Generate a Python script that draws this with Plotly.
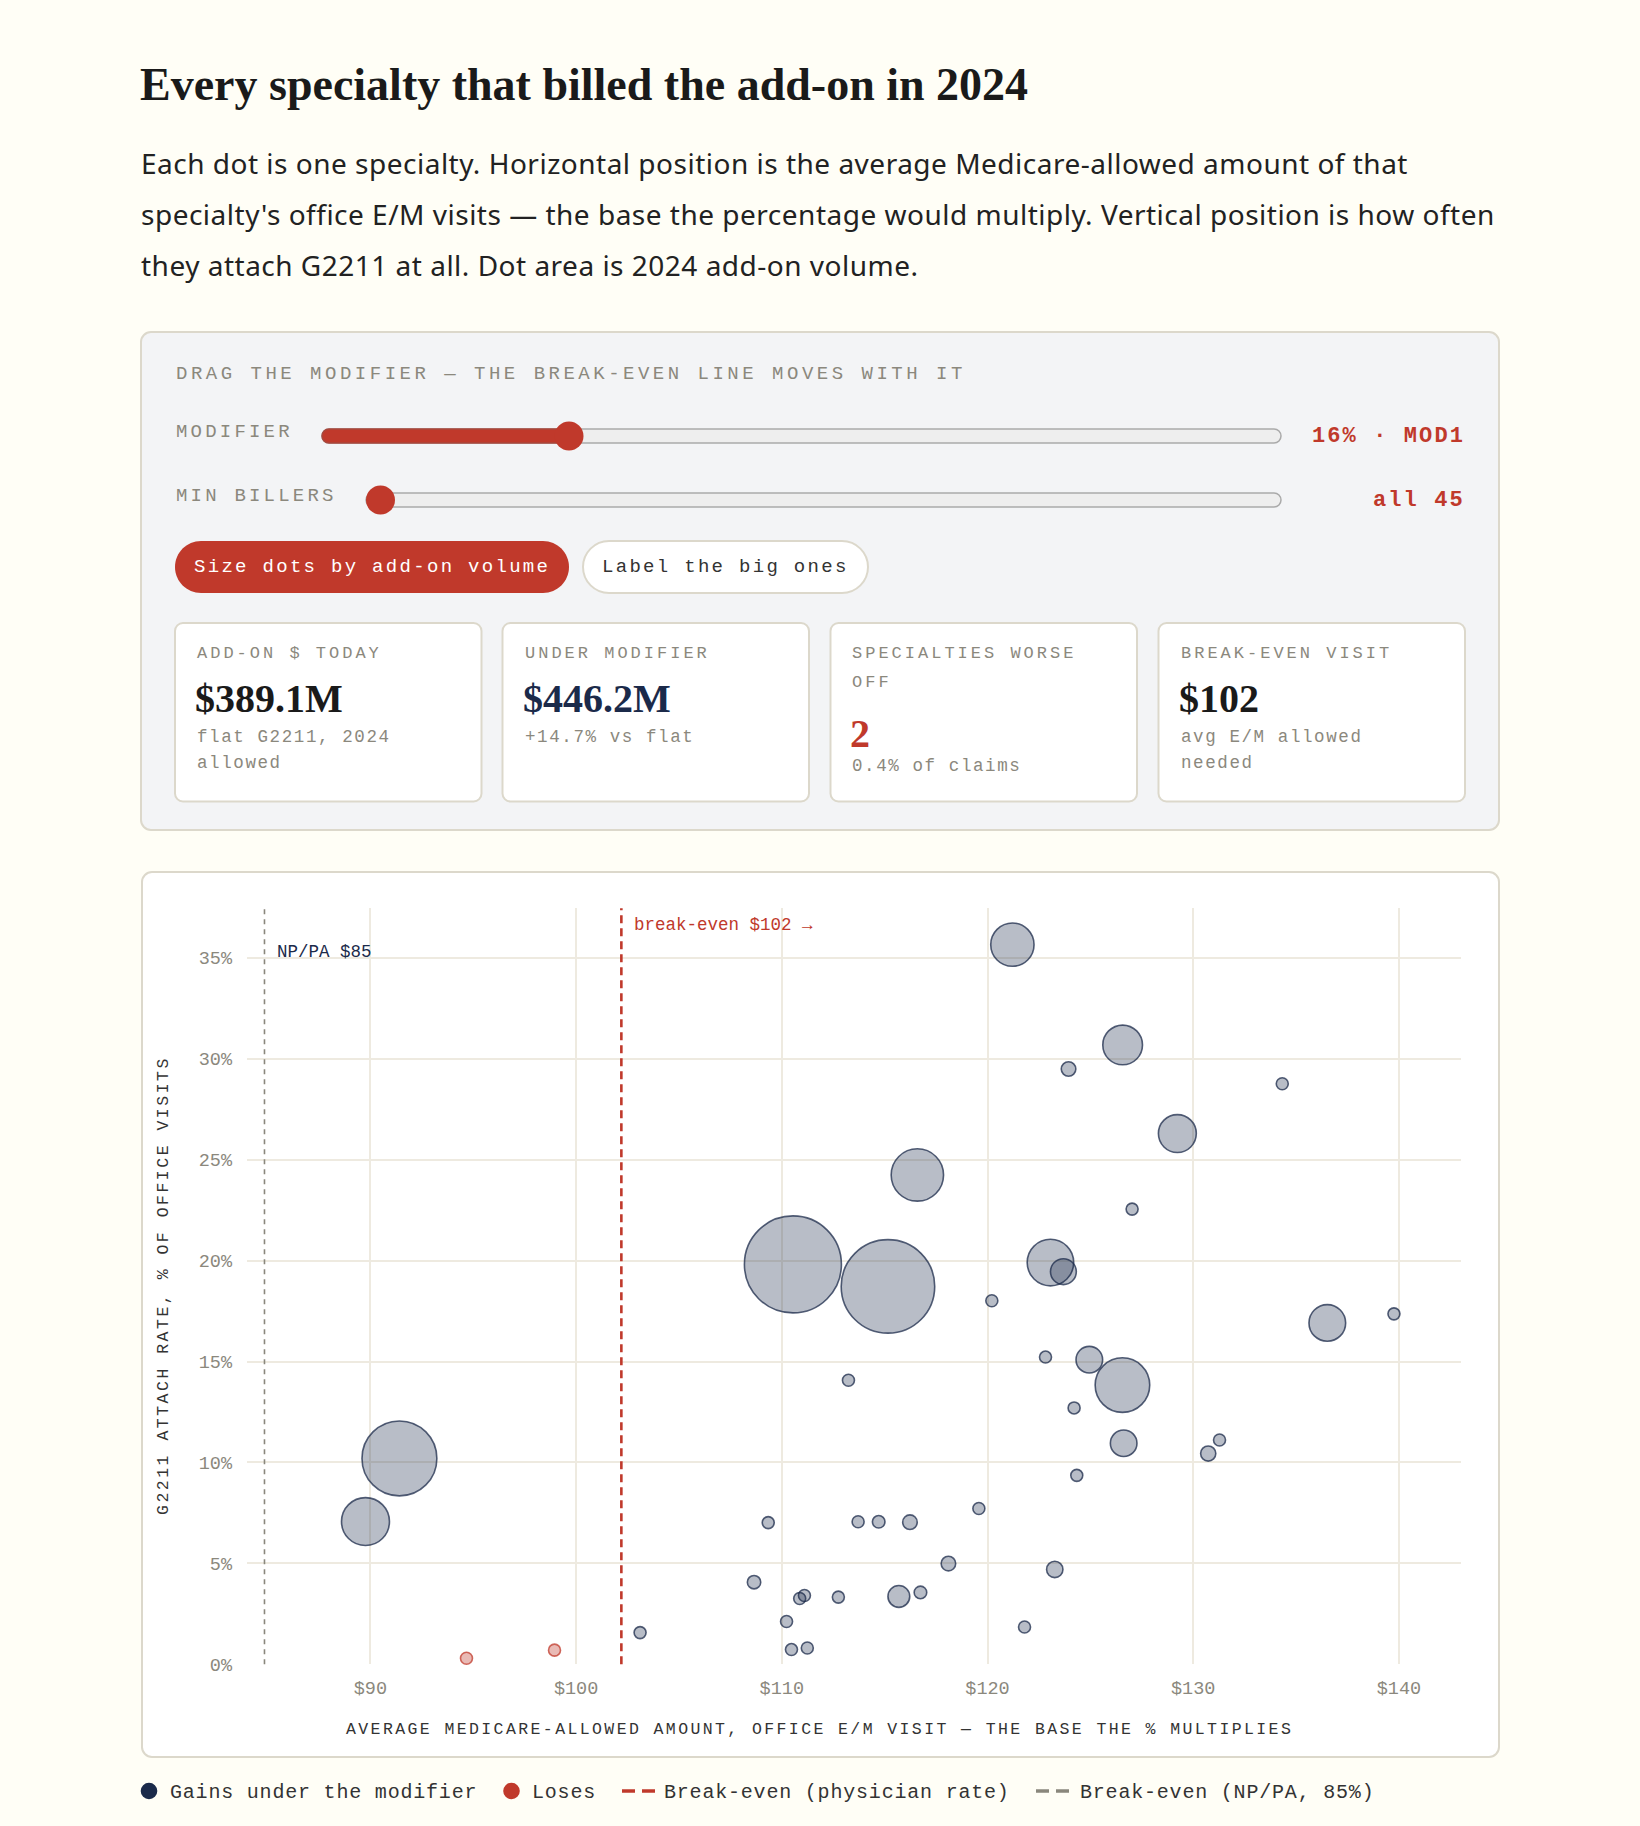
import numpy as np
import plotly.graph_objects as go

# ---------------- data ----------------
avg_allowed = [121.21, 126.57, 123.94, 134.33, 129.23, 116.59, 127.03, 110.54, 123.06, 123.69,
               115.16, 120.21, 136.52, 139.76, 113.24, 122.82, 124.95, 126.56, 124.21, 126.62,
               130.73, 131.28, 91.41, 89.76, 124.34, 109.34, 113.71, 114.71, 116.23, 119.58,
               118.10, 123.27, 108.65, 110.87, 111.10, 112.75, 115.69, 116.74, 110.23, 103.11,
               110.47, 111.24, 121.80, 98.95, 94.67]
attach_rate = [35.65, 30.68, 29.49, 28.76, 26.29, 24.24, 22.55, 19.81, 19.90, 19.45,
               18.72, 18.01, 16.91, 17.36, 14.07, 15.22, 15.09, 13.83, 12.70, 10.95,
               10.44, 11.11, 10.20, 7.07, 9.36, 7.02, 7.06, 7.06, 7.04, 7.72,
               4.99, 4.70, 4.07, 3.26, 3.41, 3.33, 3.36, 3.56, 2.12, 1.57,
               0.73, 0.81, 1.85, 0.70, 0.30]
addon_claims_k = [1197, 1005, 135, 70, 916, 1749, 72, 6000, 1381, 426,
                  5575, 65, 858, 60, 75, 68, 452, 1900, 62, 452,
                  147, 58, 3576, 1466, 66, 55, 74, 101, 135, 64,
                  135, 171, 114, 57, 61, 69, 303, 101, 63, 52,
                  50, 56, 59, 48, 45]
np_pa_specialty = [False] * 22 + [True, True] + [False] * 21

BREAKEVEN = 102.2          # physician break-even visit ($)
NPPA_BREAKEVEN = 84.85     # NP/PA break-even (85%)
x_ticks = [90, 100, 110, 120, 130, 140]
y_ticks = [0, 5, 10, 15, 20, 25, 30, 35]

title = "Every specialty that billed the add-on in 2024"
subtitle_lines = [
    "Each dot is one specialty. Horizontal position is the average Medicare-allowed amount of that",
    "specialty's office E/M visits \u2014 the base the percentage would multiply. Vertical position is how often",
    "they attach G2211 at all. Dot area is 2024 add-on volume.",
]
card_labels = [["ADD-ON $ TODAY"], ["UNDER MODIFIER"], ["SPECIALTIES WORSE", "OFF"], ["BREAK-EVEN VISIT"]]
card_values = ["$389.1M", "$446.2M", "2", "$102"]
card_notes = [["flat G2211, 2024", "allowed"], ["+14.7% vs flat"], ["0.4% of claims"], ["avg E/M allowed", "needed"]]
modifier_pct = 16
slider_min, slider_max = 8, 40
legend_labels = ["Gains under the modifier", "Loses", "Break-even (physician rate)", "Break-even (NP/PA, 85%)"]

# ---------------- style ----------------
W, H = 1640, 1826
BG = "#fffef6"
INK = "#1a1a1a"
BODY = "#222222"
NAVY = "#1b2a4a"
RED = "#c0392b"
GRAY = "#8b887d"
DARK = "#333333"
RULE = "#dcd8cb"
GRID = "#eeeae0"
PANEL = "#f3f4f6"
MONO = "Liberation Mono, DejaVu Sans Mono, monospace"
SERIF = "Liberation Serif, DejaVu Serif, serif"
SANS = "Noto Sans, Open Sans, sans-serif"

shapes, ann = [], []


def X(v):
    return v / W


def Y(v):
    return 1 - v / H


def P(x, y):
    return f"{X(x):.6f},{Y(y):.6f}"


def rrect(x0, y0, x1, y1, r, fill, line=None, lw=0, layer="below"):
    k = 0.5523 * r
    path = (f"M{P(x0 + r, y0)} L{P(x1 - r, y0)} C{P(x1 - r + k, y0)} {P(x1, y0 + r - k)} {P(x1, y0 + r)} "
            f"L{P(x1, y1 - r)} C{P(x1, y1 - r + k)} {P(x1 - r + k, y1)} {P(x1 - r, y1)} "
            f"L{P(x0 + r, y1)} C{P(x0 + r - k, y1)} {P(x0, y1 - r + k)} {P(x0, y1 - r)} "
            f"L{P(x0, y0 + r)} C{P(x0, y0 + r - k)} {P(x0 + r - k, y0)} {P(x0 + r, y0)} Z")
    shapes.append(dict(type="path", xref="paper", yref="paper", path=path, fillcolor=fill,
                       line=dict(color=line or fill, width=lw), layer=layer))


def circle(cx, cy, r, fill, line=None, lw=0, layer="below"):
    shapes.append(dict(type="circle", xref="paper", yref="paper", x0=X(cx - r), x1=X(cx + r),
                       y0=Y(cy + r), y1=Y(cy - r), fillcolor=fill,
                       line=dict(color=line or fill, width=lw), layer=layer))


def seg(x0, y0, x1, y1, color, width, layer="above"):
    shapes.append(dict(type="line", xref="paper", yref="paper", x0=X(x0), x1=X(x1), y0=Y(y0), y1=Y(y1),
                       line=dict(color=color, width=width), layer=layer))


def T(x, y, text, size, color, family=MONO, xanchor="left", ls=0, weight="normal", angle=0):
    if ls:
        text = f'<span style="letter-spacing:{ls}px">{text}</span>'
    ann.append(dict(x=X(x), y=Y(y), xref="paper", yref="paper", text=text, showarrow=False,
                    xanchor=xanchor, yanchor="middle", textangle=angle, borderpad=0,
                    font=dict(size=size, color=color, family=family, weight=weight)))


# ---------------- header text ----------------
T(139, 85, title, 46, INK, SERIF, weight="bold")
for i, line in enumerate(subtitle_lines):
    T(140, 163 + i * 51, line, 28, BODY, SANS, ls=0.5)

# ---------------- control panel ----------------
rrect(141, 332, 1499, 830, 10, PANEL, RULE, 2)
T(175, 374, "DRAG THE MODIFIER \u2014 THE BREAK-EVEN LINE MOVES WITH IT", 19, GRAY, ls=3.5)

T(175, 432, "MODIFIER", 19, GRAY, ls=3.2)
T(175, 496, "MIN BILLERS", 19, GRAY, ls=3.2)

# modifier slider
trk_l, trk_r, thumb_r = 322, 1281, 14.5
frac = (modifier_pct - slider_min) / (slider_max - slider_min)
thumb_x = trk_l + thumb_r + frac * (trk_r - trk_l - 2 * thumb_r)
rrect(trk_l, 429, trk_r, 443, 7, "#eeeeee", "#aaaaaa", 1.5)
rrect(trk_l, 429, thumb_x, 443, 7, RED, "#a8473c", 1.5)
circle(thumb_x, 436, thumb_r, RED)
T(1466, 437, f"{modifier_pct}% \u00b7 MOD1", 22, RED, ls=2.1, xanchor="right", weight="bold")

# min billers slider
trk2_l = 366
rrect(trk2_l, 493, trk_r, 507, 7, "#eeeeee", "#aaaaaa", 1.5)
circle(trk2_l + thumb_r, 500, thumb_r, RED)
T(1466, 500, f"all {len(avg_allowed)}", 22, RED, ls=2.1, xanchor="right", weight="bold")

# toggle buttons
rrect(175, 541, 569, 593, 26, RED)
T(372, 567, "Size dots by add-on volume", 19, "#ffffff", xanchor="center", ls=2.3)
rrect(583, 541, 868, 593, 26, "#ffffff", RULE, 2)
T(725.5, 567, "Label the big ones", 19, DARK, xanchor="center", ls=2.3)

# stat cards
card_left = [175, 502.5, 830.5, 1158.5]
value_colors = [INK, NAVY, RED, INK]
for i, cx in enumerate(card_left):
    rrect(cx, 623, cx + 306.5, 801.5, 8, "#ffffff", RULE, 2)
    for j, lab in enumerate(card_labels[i]):
        T(cx + 21, 654 + j * 28, lab, 17, GRAY, ls=3.0)
    vy = 699 if len(card_labels[i]) == 1 else 733
    T(cx + 19, vy, card_values[i], 40, value_colors[i], SERIF, weight="bold")
    ny = 737 if len(card_labels[i]) == 1 else 766
    for j, note in enumerate(card_notes[i]):
        T(cx + 21, ny + j * 26, note, 17.5, GRAY, ls=1.6)

# ---------------- chart box ----------------
rrect(142, 872, 1499, 1757, 10, "#ffffff", RULE, 2)

x_arr = np.array(avg_allowed)
y_arr = np.array(attach_rate)
v_arr = np.array(addon_claims_k, dtype=float)
npp = np.array(np_pa_specialty)
threshold = np.where(npp, NPPA_BREAKEVEN, BREAKEVEN)
loses = x_arr < threshold

RMIN, RMAX = 6.0, 48.5
radius = np.maximum(RMIN, RMAX * np.sqrt(v_arr / v_arr.max()))
order = np.argsort(-v_arr, kind="stable")

fills = np.where(loses, "rgba(192,57,43,0.35)", "rgba(27,42,74,0.31)")
lines = np.where(loses, "rgba(192,57,43,0.75)", "rgba(27,42,74,0.75)")

fig = go.Figure()
fig.add_trace(go.Scatter(
    x=x_arr[order], y=y_arr[order], mode="markers", cliponaxis=False,
    marker=dict(size=2 * radius[order], color=list(fills[order]), opacity=1,
                line=dict(color=list(lines[order]), width=1.6)),
    hovertemplate="$%{x:.2f} · %{y:.1f}%<extra></extra>", showlegend=False))

# break-even lines
shapes.append(dict(type="line", xref="x", yref="paper", x0=NPPA_BREAKEVEN, x1=NPPA_BREAKEVEN,
                   y0=Y(1664.3), y1=Y(908.3), line=dict(color="#8a877c", width=1.6, dash="5px,5px"),
                   layer="above"))
shapes.append(dict(type="line", xref="x", yref="paper", x0=BREAKEVEN, x1=BREAKEVEN,
                   y0=Y(1664.3), y1=Y(908.3), line=dict(color=RED, width=2.6, dash="8px,5px"),
                   layer="above"))
ann.append(dict(x=BREAKEVEN, xref="x", y=Y(925), yref="paper", xshift=11, xanchor="left", yanchor="middle",
                text=f"break-even ${BREAKEVEN:.0f} \u2192", showarrow=False,
                font=dict(size=17.5, color=RED, family=MONO)))
ann.append(dict(x=NPPA_BREAKEVEN, xref="x", y=Y(952), yref="paper", xshift=11, xanchor="left", yanchor="middle",
                text=f"NP/PA ${NPPA_BREAKEVEN:.0f}", showarrow=False,
                font=dict(size=17.5, color=NAVY, family=MONO)))

# axis titles
T(819.5, 1729, "AVERAGE MEDICARE-ALLOWED AMOUNT, OFFICE E/M VISIT \u2014 THE BASE THE % MULTIPLIES",
  16.5, DARK, xanchor="center", ls=2.4)
T(163, 1286, "G2211 ATTACH RATE, % OF OFFICE VISITS", 16.5, DARK, xanchor="center", ls=2.5, angle=-90)

# ---------------- legend ----------------
LY = 1791
circle(149, LY, 8.3, NAVY)
T(169, LY + 1, legend_labels[0], 20, DARK, ls=0.8)
circle(511.5, LY, 8.3, RED)
T(531, LY + 1, legend_labels[1], 20, DARK, ls=0.8)
seg(622, LY, 635, LY, RED, 3.5)
seg(642, LY, 655, LY, RED, 3.5)
T(663, LY + 1, legend_labels[2], 20, DARK, ls=0.8)
seg(1036, LY, 1049, LY, "#8a877c", 3.5)
seg(1056, LY, 1069, LY, "#8a877c", 3.5)
T(1079, LY + 1, legend_labels[3], 20, DARK, ls=0.8)

# ---------------- layout ----------------
fig.update_layout(
    width=W, height=H, autosize=False,
    margin=dict(l=0, r=0, t=0, b=0, pad=0, autoexpand=False),
    paper_bgcolor=BG, plot_bgcolor="#ffffff",
    shapes=shapes, annotations=ann, showlegend=False,
    xaxis=dict(domain=[X(247), X(1460.6)], range=[84, 143], tickmode="array", tickvals=x_ticks,
               ticktext=[f"${v}" for v in x_ticks], automargin=False,
               showgrid=True, gridcolor=GRID, gridwidth=2, zeroline=False, showline=False,
               ticks="", ticklabelstandoff=10,
               tickfont=dict(family=MONO, size=18.5, color=GRAY), fixedrange=True),
    yaxis=dict(domain=[Y(1664.3), Y(908.3)], range=[0, 37.45], tickmode="array", tickvals=y_ticks,
               ticktext=[f"{v}%" for v in y_ticks], automargin=False,
               showgrid=True, gridcolor=GRID, gridwidth=2, zeroline=False, showline=False,
               ticks="", ticklabelstandoff=14,
               tickfont=dict(family=MONO, size=18.5, color=GRAY), fixedrange=True),
    hoverlabel=dict(font=dict(family=MONO)),
)

post = ("var d=document.documentElement,b=document.body;"
        "d.style.margin='0';b.style.margin='0';b.style.padding='0';"
        "d.style.overflow='hidden';b.style.overflow='hidden';"
        "b.style.height='" + str(H) + "px';"
        "d.style.background='" + BG + "';b.style.background='" + BG + "';")
fig.write_html("out.html", config={"displayModeBar": False}, post_script=post)
